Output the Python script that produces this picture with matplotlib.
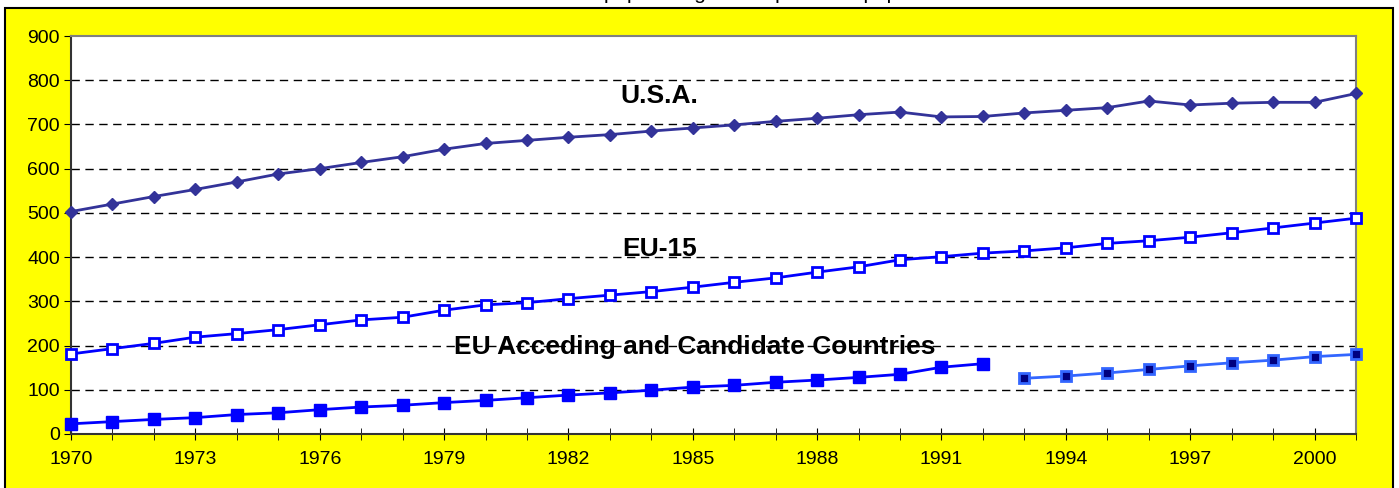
import matplotlib.pyplot as plt
import matplotlib.patches as patches
import numpy as np

plt.rcParams['font.family'] = ['Liberation Sans', 'DejaVu Sans']

years = list(range(1970, 2002))
usa = [503, 520, 537, 553, 570, 588, 600, 614, 627, 644, 657, 664, 671, 677, 685, 692,
       699, 707, 714, 722, 728, 717, 718, 726, 732, 738, 753, 744, 748, 750, 750, 770]
eu15 = [181, 193, 205, 219, 227, 236, 247, 258, 264, 280, 292, 297, 306, 314, 322, 332,
        343, 353, 366, 378, 394, 401, 409, 414, 421, 431, 437, 445, 455, 466, 477, 488]
acc_years_a = list(range(1970, 1993))
acc_a = [23, 28, 33, 37, 44, 48, 55, 61, 65, 71, 76, 82, 88, 93, 99, 106,
         110, 117, 122, 128, 135, 151, 159]
acc_years_b = list(range(1993, 2002))
acc_b = [126, 131, 138, 146, 154, 161, 167, 175, 180]

xtick_years = list(range(1970, 2001, 3))
yticks = list(range(0, 1000, 100))

fig = plt.figure(figsize=(13.99, 4.88), dpi=100)
fig.patch.set_facecolor('white')

# yellow frame
bg = patches.Rectangle((5 / 1399, -0.02), (1393 - 5) / 1399, 1 - 8 / 488 + 0.02,
                       transform=fig.transFigure, facecolor='#FFFF00',
                       edgecolor='black', linewidth=1.5, zorder=-10)
fig.patches.append(bg)

# title sits above the image; only its descenders show
fig.text(0.515, 1.003, 'Car ownership: passenger cars per 1000 population', ha='center',
         va='baseline', fontsize=15)

ax = fig.add_axes([71 / 1399, (488 - 434) / 488, (1356 - 71) / 1399, (434 - 36) / 488])
ax.set_facecolor('white')

ax.plot(years, usa, color='#333399', lw=2, marker='D', ms=6,
        mfc='#333399', mec='#333399', clip_on=False, zorder=5)
ax.plot(years, eu15, color='#0000FF', lw=2, marker='s', ms=7,
        mfc='white', mec='#0000FF', mew=2, clip_on=False, zorder=5)
ax.plot(acc_years_a, acc_a, color='#0000FF', lw=2, marker='s', ms=8,
        mfc='#0000FF', mec='#0000FF', clip_on=False, zorder=5)
ax.plot(acc_years_b, acc_b, color='#3366FF', lw=2, marker='s', ms=7,
        mfc='#000080', mec='#3366FF', mew=2, clip_on=False, zorder=5)

ax.text(1984.2, 764, 'U.S.A.', fontsize=19, fontweight='bold', ha='center', va='center')
ax.text(1984.2, 418, 'EU-15', fontsize=19, fontweight='bold', ha='center', va='center')
ax.text(1985.05, 197, 'EU Acceding and Candidate Countries', fontsize=19,
        fontweight='bold', ha='center', va='center')

ax.set_xlim(1970, 2001)
ax.set_ylim(0, 900)
ax.set_yticks(yticks)
ax.set_xticks(years, minor=True)
ax.set_xticks(xtick_years)
ax.tick_params(axis='y', direction='out', length=5, labelsize=14, pad=3)
ax.tick_params(axis='x', which='both', direction='inout', length=9, labelsize=14, pad=8)
ax.tick_params(axis='x', which='minor', labelbottom=False)

for y in yticks[1:-1]:
    ax.axhline(y, color='black', lw=1, ls=(0, (6, 4)), zorder=1)

ax.spines['left'].set_color('#333333')
ax.spines['bottom'].set_color('#333333')
ax.spines['left'].set_linewidth(1.5)
ax.spines['bottom'].set_linewidth(1.5)
ax.spines['top'].set_color('#808080')
ax.spines['right'].set_color('#808080')
ax.spines['top'].set_linewidth(1.5)
ax.spines['right'].set_linewidth(1.5)

fig.savefig('out.png', dpi=100, facecolor=fig.get_facecolor())
